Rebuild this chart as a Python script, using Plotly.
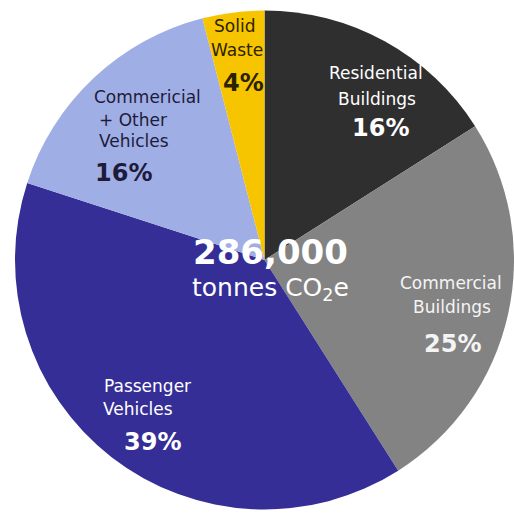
import plotly.graph_objects as go

# Emission sources, clockwise from 12 o'clock
sources = ["Residential<br>Buildings", "Commercial<br>Buildings", "Passenger<br>Vehicles",
           "Commericial<br>+ Other<br>Vehicles", "Solid<br>Waste"]
shares = [16, 25, 39, 16, 4]
total_tonnes = 286000

colors = ["#2f2f2f", "#838383", "#352e96", "#a0aee6", "#f6c500"]
text_colors = ["#ffffff", "#f4f4f4", "#ffffff", "#1c1c3a", "#2b2200"]

W, H = 514, 515
FONT = "DejaVu Sans"

# pixel anchors for each label: (x of each name line, y of each name line, x/y of percentage)
label_layout = [
    dict(lines=[(376, 73), (377, 99)], pct=(380, 128)),
    dict(lines=[(451, 283), (452, 307)], pct=(452, 344)),
    dict(lines=[(147, 386), (138, 409)], pct=(152, 442)),
    dict(lines=[(147, 97), (133, 120), (134, 141)], pct=(123, 173)),
    dict(lines=[(234, 26), (237, 50)], pct=(243, 83)),
]

fig = go.Figure(go.Pie(
    labels=[s.replace("<br>", " ") for s in sources],
    values=shares,
    sort=False,
    direction="clockwise",
    rotation=0,
    marker=dict(colors=colors, line=dict(width=0)),
    textinfo="none",
    hoverinfo="label+percent",
    showlegend=False,
    domain=dict(x=[15 / W, 1], y=[(H - 511) / H, (H - 9) / H]),
))


def px(x, y):
    return x / W, 1 - y / H


annotations = []
for name, val, col, lay in zip(sources, shares, text_colors, label_layout):
    for line, (lx, ly) in zip(name.split("<br>"), lay["lines"]):
        ax, ay = px(lx, ly)
        annotations.append(dict(x=ax, y=ay, xref="paper", yref="paper", text=line,
                                showarrow=False, xanchor="center", yanchor="middle",
                                font=dict(family=FONT, size=17, color=col)))
    ax, ay = px(*lay["pct"])
    annotations.append(dict(x=ax, y=ay, xref="paper", yref="paper", text=f"<b>{val}%</b>",
                            showarrow=False, xanchor="center", yanchor="middle",
                            font=dict(family=FONT, size=24, color=col)))

# total in the middle
ax, ay = px(270, 252)
annotations.append(dict(x=ax, y=ay, xref="paper", yref="paper", text=f"<b>{total_tonnes:,}</b>",
                        showarrow=False, xanchor="center", yanchor="middle",
                        font=dict(family=FONT, size=34, color="#ffffff")))
ax, ay = px(270, 289)
annotations.append(dict(x=ax, y=ay, xref="paper", yref="paper", text="tonnes CO<sub>2</sub>e",
                        showarrow=False, xanchor="center", yanchor="middle",
                        font=dict(family=FONT, size=25, color="#ffffff")))

fig.update_layout(
    width=W, height=H,
    margin=dict(l=0, r=0, t=0, b=0),
    paper_bgcolor="#ffffff",
    plot_bgcolor="#ffffff",
    annotations=annotations,
)

fig.write_html("out.html")
